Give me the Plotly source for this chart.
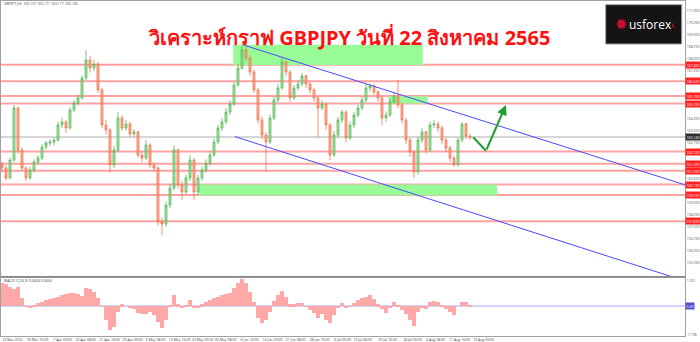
import plotly.graph_objects as go

# ---------------- data ----------------
opens = [161.45,161.2,160.58,161.7,164.95,162.33,161.2,160.58,161.08,161.58,
         161.83,162.51,162.76,162.83,162.95,163.89,164.08,163.7,164.83,165.26,
         165.58,166.83,167.95,167.45,167.7,166.08,163.89,163.58,161.39,162.33,
         164.33,163.7,163.95,163.33,163.45,162.01,161.83,162.64,161.39,161.2,
         157.83,157.7,158.89,159.95,162.33,160.14,159.7,160.58,161.7,159.7,
         160.58,161.08,161.51,162.01,162.83,163.7,164.08,164.7,165.2,166.39,
         167.45,168.58,168.08,167.2,166.08,164.2,163.26,162.83,164.33,165.45,
         166.2,167.83,167.2,165.58,166.2,166.45,166.95,166.45,166.08,165.58,
         164.95,165.2,163.89,162.01,163.26,164.2,164.7,163.08,163.89,164.51,
         164.95,165.45,166.2,166.33,165.95,165.58,164.33,164.51,165.33,165.7,
         165.14,164.2,162.95,162.2,160.95,162.95,163.45,162.33,163.89,163.95,
         163.7,162.95,162.45,161.83,161.39,162.95,163.95,163.2]
closes = [161.2,160.58,161.7,164.95,162.33,161.2,160.58,161.08,161.58,161.83,
          162.51,162.76,162.83,162.95,163.89,164.08,163.7,164.83,165.26,165.58,
          166.83,167.95,167.45,167.7,166.08,163.89,163.58,161.39,162.33,164.33,
          163.7,163.95,163.33,163.45,162.01,161.83,162.64,161.39,161.2,157.83,
          157.7,158.89,159.95,162.33,160.14,159.7,160.58,161.7,159.7,160.58,
          161.08,161.51,162.01,162.83,163.7,164.08,164.7,165.2,166.39,167.45,
          168.58,168.08,167.2,166.08,164.2,163.26,162.83,164.33,165.45,166.2,
          167.83,167.2,165.58,166.2,166.45,166.95,166.45,166.08,165.58,164.95,
          165.2,163.89,162.01,163.26,164.2,164.7,163.08,163.89,164.51,164.95,
          165.45,166.2,166.33,165.95,165.58,164.33,164.51,165.33,165.7,165.14,
          164.2,162.95,162.2,160.95,162.95,163.45,162.33,163.89,163.95,163.7,
          162.95,162.45,161.83,161.39,162.95,163.95,163.2,163.14]
highs = [161.6,161.35,161.85,165.14,165.05,162.5,161.3,161.3,161.75,162.0,
         162.7,162.9,163.0,163.1,164.1,164.35,164.2,165.0,165.45,165.8,
         167.0,168.58,168.2,167.95,167.8,166.2,164.2,163.7,162.6,164.7,
         164.5,164.2,164.1,163.65,163.55,162.25,162.95,162.75,161.55,161.3,
         158.1,159.1,160.2,162.6,162.45,160.4,160.8,162.0,161.85,160.8,
         161.3,161.75,162.25,163.05,163.9,164.3,164.95,165.45,166.6,167.7,
         168.89,168.75,168.25,167.35,166.2,164.4,163.45,164.55,165.65,166.45,
         168.08,167.95,167.3,166.4,166.7,167.15,167.05,166.6,166.2,165.7,
         165.45,165.3,164.0,163.5,164.4,164.85,164.8,164.1,164.7,165.15,
         165.65,166.45,166.5,166.45,166.1,165.7,164.75,165.55,165.95,166.7,
         165.3,164.35,163.1,162.3,163.15,163.7,163.55,164.1,164.2,164.1,
         163.85,163.1,162.6,162.0,163.1,164.08,164.05,163.35]
lows = [160.95,160.45,160.5,161.6,162.1,161.0,160.4,160.45,160.9,161.4,
        161.7,162.35,162.55,162.6,162.85,163.7,163.4,163.6,164.7,165.1,
        165.45,166.7,167.2,167.25,165.9,163.7,163.3,160.89,161.2,162.2,
        163.5,163.55,163.1,163.15,161.85,161.6,161.7,161.2,160.95,157.6,
        156.98,157.5,158.7,159.8,159.9,159.2,159.55,160.4,159.2,159.5,
        160.4,160.9,161.35,161.9,162.7,163.5,163.95,164.5,165.1,166.25,
        167.35,167.85,166.95,165.9,164.0,163.0,160.95,162.7,164.2,165.3,
        166.1,166.95,165.3,165.45,166.05,166.3,166.2,165.85,165.35,163.14,
        164.8,163.6,161.7,161.9,163.1,164.0,162.8,162.95,163.7,164.35,
        164.8,165.3,166.0,165.75,165.35,163.89,164.1,164.4,165.2,164.95,
        164.0,162.7,161.9,160.58,160.8,162.8,162.1,162.2,163.7,163.45,
        162.7,162.2,161.6,161.26,161.3,162.8,163.0,162.95]
macd_hist = [0.95,0.91,0.78,0.70,0.78,0.33,-0.04,-0.08,0.04,0.12,
             0.16,0.25,0.29,0.33,0.37,0.45,0.49,0.54,0.54,0.49,
             0.41,0.74,0.70,0.58,0.33,-0.04,-0.58,-0.99,-0.87,-0.25,
             0.08,0.0,-0.08,-0.12,-0.29,-0.33,-0.33,-0.25,-0.37,-0.66,
             -0.91,-0.58,0.04,0.45,0.08,-0.08,0.04,0.25,-0.08,-0.08,
             0.08,0.16,0.25,0.33,0.37,0.45,0.49,0.54,0.74,0.95,
             1.11,0.95,0.58,0.16,-0.49,-0.70,-0.58,-0.25,0.21,0.45,
             0.62,0.37,0.08,0.08,0.12,0.12,-0.04,-0.16,-0.29,-0.49,
             -0.33,-0.58,-0.70,-0.37,-0.08,0.12,-0.08,-0.04,0.12,0.25,
             0.33,0.37,0.45,0.29,0.08,-0.12,-0.29,-0.08,0.16,0.04,
             -0.16,-0.33,-0.58,-0.82,-0.25,-0.08,-0.12,0.16,0.21,0.16,
             0.04,-0.12,-0.25,-0.37,0.0,0.16,0.16,0.04]
bars = list(range(len(closes)))

date_labels = ["22 Mar 2022","30 Mar 16:00","7 Apr 00:00","14 Apr 08:00","21 Apr 16:00",
               "29 Apr 00:00","6 May 08:00","13 May 16:00","23 May 00:00","30 May 08:00",
               "6 Jun 16:00","14 Jun 00:00","21 Jun 08:00","28 Jun 16:00","6 Jul 00:00",
               "13 Jul 08:00","20 Jul 16:00","28 Jul 00:00","4 Aug 08:00","11 Aug 16:00",
               "19 Aug 00:00"]
date_label_bars = [0.75,7,13.25,19,25,30.75,36.5,42.5,48.25,54,60,65.75,71.5,77.5,
                   83.25,88.25,94.5,100.75,106.5,112.5,118.5]

price_ticks = [171.0,170.25,169.5,168.75,168.0,167.25,166.5,165.75,165.0,164.25,163.5,
               162.75,162.0,161.25,160.5,159.75,159.0,158.25,157.5,156.75,156.0,155.25]
levels = [167.66,166.62,165.70,165.23,162.23,161.47,161.03,160.17,159.51,157.87]
current_price = 163.14

zones = [  # (bar_start, bar_end, price_low, price_high)
    (57.8, 105.2, 167.64, 168.91),
    (96.75, 106.4, 165.24, 165.68),
    (49.25, 123.75, 159.49, 160.17),
]
channel_upper = ([60.6, 170.75], [168.87, 160.15])
channel_lower = ([58.25, 167.4], [163.16, 154.41])
arrow_path = ([117.8, 121.0, 126.0], [163.12, 162.28, 165.14])

# ---------------- figure ----------------
W, H = 700, 342
ML, MR, MT, MB = 1, 15, 1, 6
PH = H - MT - MB
PW = W - ML - MR

def py(pix):  # pixel y -> paper y
    return (H - MB - pix) / PH

def px(pix):  # pixel x -> paper x
    return (pix - ML) / PW

fig = go.Figure()

fig.add_trace(go.Candlestick(
    x=bars, open=opens, high=highs, low=lows, close=closes,
    xaxis="x", yaxis="y", whiskerwidth=0,
    increasing=dict(line=dict(color="#4cb34c", width=0.8), fillcolor="#9ddc9d"),
    decreasing=dict(line=dict(color="#f26a42", width=0.8), fillcolor="#f8a88a"),
    opacity=0.9, showlegend=False, hoverinfo="skip"))

fig.add_trace(go.Bar(
    x=bars, y=macd_hist, xaxis="x2", yaxis="y2", width=0.95,
    marker=dict(color="#ffa8a8", line=dict(width=0)), showlegend=False))

shapes = []
for (b0, b1, p0, p1) in zones:
    shapes.append(dict(type="rect", xref="x", yref="y", x0=b0, x1=b1, y0=p0, y1=p1,
                       fillcolor="#98fb98", line=dict(width=0), layer="below"))
for lv in levels:
    shapes.append(dict(type="line", xref="paper", yref="y", x0=0, x1=1, y0=lv, y1=lv,
                       line=dict(color="rgba(255,70,70,0.5)", width=2), layer="below"))
shapes.append(dict(type="line", xref="paper", yref="y", x0=0, x1=1,
                   y0=current_price, y1=current_price,
                   line=dict(color="#c8c8c8", width=1.5), layer="below"))
shapes.append(dict(type="line", xref="paper", yref="y2", x0=0, x1=1, y0=0, y1=0,
                   line=dict(color="#a8a8ff", width=1.2), layer="below"))
for (xs, ys) in (channel_upper, channel_lower):
    shapes.append(dict(type="line", xref="x", yref="y", x0=xs[0], x1=xs[1],
                       y0=ys[0], y1=ys[1], line=dict(color="#4a4aff", width=1)))
# panel separator
shapes.append(dict(type="line", xref="paper", yref="paper", x0=0, x1=1,
                   y0=py(276.8), y1=py(276.8), line=dict(color="#888888", width=1.5)))
# logo box and emblem
shapes.append(dict(type="rect", xref="paper", yref="paper", x0=px(605.7), x1=px(681.7),
                   y0=py(44), y1=py(4.7), fillcolor="#141414",
                   line=dict(color="#9a9a9a", width=1)))
shapes.append(dict(type="circle", xref="paper", yref="paper", x0=px(617), x1=px(626),
                   y0=py(28.5), y1=py(19.5), fillcolor="#c8102e",
                   line=dict(color="#7a0a1a", width=1)))

fig.add_trace(go.Scatter(x=arrow_path[0][:2], y=arrow_path[1][:2], mode="lines",
                         line=dict(color="#1f9d2f", width=2), xaxis="x", yaxis="y",
                         showlegend=False, hoverinfo="skip"))

tiny = dict(size=3.5, color="#444444")
annotations = [
    dict(x=arrow_path[0][2], y=arrow_path[1][2], ax=arrow_path[0][1], ay=arrow_path[1][1],
         xref="x", yref="y", axref="x", ayref="y", showarrow=True, arrowhead=2,
         arrowsize=1, arrowwidth=2, arrowcolor="#1f9d2f", text=""),
    dict(x=px(349), y=py(21), xref="paper", yref="paper", showarrow=False,
         text="<b>วิเคราะห์กราฟ GBPJPY วันที่ 22 สิงหาคม 2565</b>",
         font=dict(family="Noto Sans, sans-serif", size=20, color="#ff1010")),
    dict(x=px(627), y=py(24), xref="paper", yref="paper", showarrow=False,
         xanchor="left", yanchor="middle", text="usforex",
         font=dict(family="Open Sans, sans-serif", size=12, color="#ffffff")),
    dict(x=px(669), y=py(24), xref="paper", yref="paper", showarrow=False,
         xanchor="left", yanchor="middle", text="‹",
         font=dict(family="Open Sans, sans-serif", size=13, color="#d0102a")),
    dict(x=px(2), y=py(3.5), xref="paper", yref="paper", showarrow=False,
         xanchor="left", yanchor="middle",
         text="GBPJPY,H4  163.157 163.171 163.117 163.140", font=tiny),
    dict(x=px(2), y=py(280.5), xref="paper", yref="paper", showarrow=False,
         xanchor="left", yanchor="middle", text="MACD(12,26,9) 0.0404 0.0454", font=tiny),
]
for lv in levels:
    annotations.append(dict(x=1.0, y=lv, xref="paper", yref="y", xanchor="left",
                            yanchor="middle", showarrow=False, text=f"{lv:.3f}",
                            bgcolor="#ff2020", borderpad=0.5,
                            font=dict(size=3.5, color="#ffffff")))
annotations.append(dict(x=1.0, y=current_price, xref="paper", yref="y", xanchor="left",
                        yanchor="middle", showarrow=False, text=f"{current_price:.3f}",
                        bgcolor="#303030", borderpad=0.5,
                        font=dict(size=3.5, color="#ffffff")))
annotations.append(dict(x=1.0, y=0, xref="paper", yref="y2", xanchor="left",
                        yanchor="middle", showarrow=False, text="0.00",
                        bgcolor="#5050c8", borderpad=0.5,
                        font=dict(size=3.5, color="#ffffff")))

# keep grid price labels that do not collide with the level tags
marked = levels + [current_price]
shown_ticks = [t for t in price_ticks if min(abs(t - m) for m in marked) > 0.3]

axis_common = dict(showgrid=False, zeroline=False, showline=True, mirror=True,
                   linecolor="#a0a0a0", linewidth=1, automargin=False)

fig.update_layout(
    width=W, height=H, margin=dict(l=ML, r=MR, t=MT, b=MB, autoexpand=False),
    paper_bgcolor="#ffffff", plot_bgcolor="#ffffff",
    shapes=shapes, annotations=annotations, bargap=0,
    xaxis=dict(domain=[0, 1], range=[-0.25, 170.75], anchor="y",
               showticklabels=False, ticks="", rangeslider=dict(visible=False), **axis_common),
    xaxis2=dict(domain=[0, 1], range=[-0.25, 170.75], anchor="y2", matches="x",
                tickvals=[b + 1.9 for b in date_label_bars], ticktext=date_labels,
                tickangle=0, tickfont=tiny, ticks="", ticklen=0, **axis_common),
    yaxis=dict(domain=[py(276.5), 1], range=[154.42, 171.64], side="right",
               tickvals=shown_ticks, ticktext=[f"{t:.3f}" for t in shown_ticks],
               tickfont=dict(size=3.5, color="#555555"), ticks="", **axis_common),
    yaxis2=dict(domain=[0, py(278)], range=[-1.237, 1.155], side="right",
                tickvals=[1.03, -1.196], ticktext=["1.031", "-1.196"],
                tickfont=dict(size=3.5, color="#555555"), ticks="", **axis_common),
)

fig.write_html("out.html")
